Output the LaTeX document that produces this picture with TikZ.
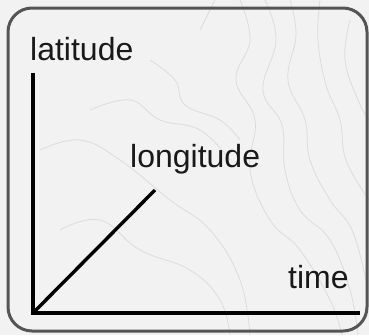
\documentclass[tikz,border=0pt]{standalone}
\usepackage{fontspec}
\setmainfont{Liberation Sans}
\definecolor{bgc}{HTML}{F2F2F2}
\definecolor{framec}{HTML}{555555}
\definecolor{topoc}{HTML}{DCDCDC}
\begin{document}
\begin{tikzpicture}[x=1pt,y=-1pt,
  frame/.style={draw=framec,line width=3pt,rounded corners=24pt},
  axis/.style={draw=black,line width=3.8pt},
  topo/.style={draw=topoc,line width=0.8pt},
  lbl/.style={inner sep=0pt,anchor=base west,text=black!90,font=\fontsize{32}{38}\selectfont}]
\useasboundingbox (0,0) rectangle (369,335);
\fill[bgc] (0,0) rectangle (369,335);
% faint contour lines
\draw[topo] plot[smooth,tension=0.7] coordinates {(240,0) (250,40) (236,80) (255,120) (250,170) (270,220) (300,250) (330,300) (342,335)};
\draw[topo] plot[smooth,tension=0.7] coordinates {(265,0) (276,40) (263,90) (282,125) (285,170) (300,210) (330,240) (350,290) (358,335)};
\draw[topo] plot[smooth,tension=0.7] coordinates {(290,0) (296,35) (288,80) (305,120) (310,160) (330,200) (352,230) (366,280)};
\draw[topo] plot[smooth,tension=0.7] coordinates {(320,0) (318,40) (326,85) (340,120) (346,160) (369,200)};
\draw[topo] plot[smooth,tension=0.7] coordinates {(350,20) (345,60) (358,100) (369,120)};
\draw[topo] plot[smooth,tension=0.7] coordinates {(150,60) (175,80) (185,105) (220,120) (240,140)};
\draw[topo] plot[smooth,tension=0.7] coordinates {(90,110) (130,100) (160,120) (200,130) (230,160)};
\draw[topo] plot[smooth,tension=0.7] coordinates {(40,150) (80,140) (120,160) (170,200) (210,230) (240,280) (250,335)};
\draw[topo] plot[smooth,tension=0.7] coordinates {(60,230) (100,220) (140,250) (190,270) (220,300) (230,335)};
\draw[topo] plot[smooth,tension=0.7] coordinates {(200,30) (215,0)};
% frame
\draw[frame] (8,8) rectangle (367,331);
% labels
\node[lbl] (lat) at (30,60) {latitude};
\node[lbl] (lon) at (130,167) {longitude};
\node[lbl] (tim) at (288,288) {time};
% axes
\coordinate (o) at (33,313);
\coordinate (ytop) at (33,73);
\coordinate (xend) at (360,313);
\coordinate (zend) at (155,190);
\draw[axis] (ytop) -- (o) -- (xend);
\draw[axis,line width=3.4pt] (o) -- (zend);
\end{tikzpicture}
\end{document}
